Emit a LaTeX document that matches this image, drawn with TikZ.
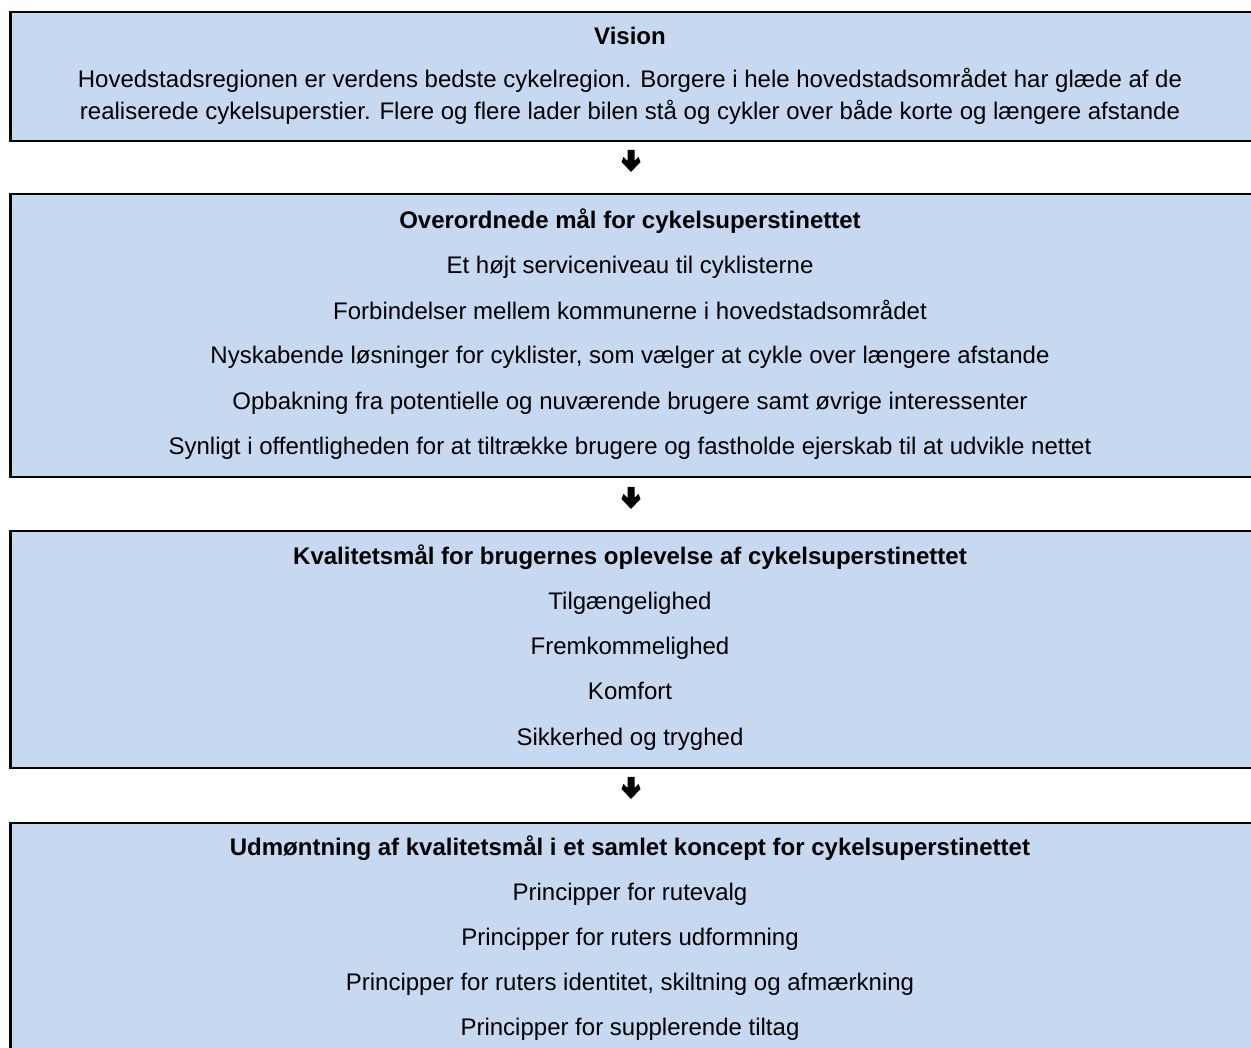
\documentclass[tikz,border=0pt]{standalone}
\usepackage{fontspec}
\setmainfont{Liberation Sans}
\definecolor{boxfill}{HTML}{C6D9F1}
\begin{document}
\begin{tikzpicture}[x=1pt,y=1pt,
  panel/.style={draw=black,line width=2.5pt,fill=boxfill,minimum width=1242pt,inner sep=0pt,anchor=north west},
  txt/.style={inner sep=0pt,font=\fontsize{24}{28}\selectfont,anchor=base},
  ttl/.style={txt,font=\fontsize{24}{28}\selectfont\bfseries},
  downarrow/.style={fill=black,draw=none}]
\useasboundingbox (0,0) rectangle (1251,1048);
% boxes (image y -> 1048 - y)
\node[panel,minimum height=129pt] (b1) at (9,1037) {};
\node[panel,minimum height=283pt] (b2) at (9,855) {};
\node[panel,minimum height=237pt] (b3) at (9,518) {};
\node[panel,minimum height=250pt] (b4) at (9,226) {};
% box 1
\node[ttl] (t1) at (630,1003.5) {Vision};
\node[txt] (t1a) at (630,960.5) {Hovedstadsregionen er verdens bedste cykelregion. Borgere i hele hovedstadsområdet har glæde af de};
\node[txt] (t1b) at (630,928.5) {realiserede cykelsuperstier. Flere og flere lader bilen stå og cykler over både korte og længere afstande};
% box 2
\node[ttl] (t2) at (630,819.5) {Overordnede mål for cykelsuperstinettet};
\node[txt] (t2a) at (630,774.5) {Et højt serviceniveau til cyklisterne};
\node[txt] (t2b) at (630,728.5) {Forbindelser mellem kommunerne i hovedstadsområdet};
\node[txt] (t2c) at (630,684) {Nyskabende løsninger for cyklister, som vælger at cykle over længere afstande};
\node[txt] (t2d) at (630,638.5) {Opbakning fra potentielle og nuværende brugere samt øvrige interessenter};
\node[txt] (t2e) at (630,593) {Synligt i offentligheden for at tiltrække brugere og fastholde ejerskab til at udvikle nettet};
% box 3
\node[ttl] (t3) at (630,483.5) {Kvalitetsmål for brugernes oplevelse af cykelsuperstinettet};
\node[txt] (t3a) at (630,438.5) {Tilgængelighed};
\node[txt] (t3b) at (630,393.5) {Fremkommelighed};
\node[txt] (t3c) at (630,348.5) {Komfort};
\node[txt] (t3d) at (630,302.5) {Sikkerhed og tryghed};
% box 4
\node[ttl] (t4) at (630,192.5) {Udmøntning af kvalitetsmål i et samlet koncept for cykelsuperstinettet};
\node[txt] (t4a) at (630,147.5) {Principper for rutevalg};
\node[txt] (t4b) at (630,102.5) {Principper for ruters udformning};
\node[txt] (t4c) at (630,57.5) {Principper for ruters identitet, skiltning og afmærkning};
\node[txt] (t4d) at (630,12.5) {Principper for supplerende tiltag};
% arrows between boxes
\foreach \T in {898,561,271}{
  \fill[downarrow] (627.5,\T) -- (634.5,\T) -- (634.5,\T-11) -- (638.5,\T-7) -- (640.5,\T-12) -- (631,\T-22) -- (621.5,\T-12) -- (623.5,\T-7) -- (627.5,\T-11) -- cycle;
}
\end{tikzpicture}
\end{document}
